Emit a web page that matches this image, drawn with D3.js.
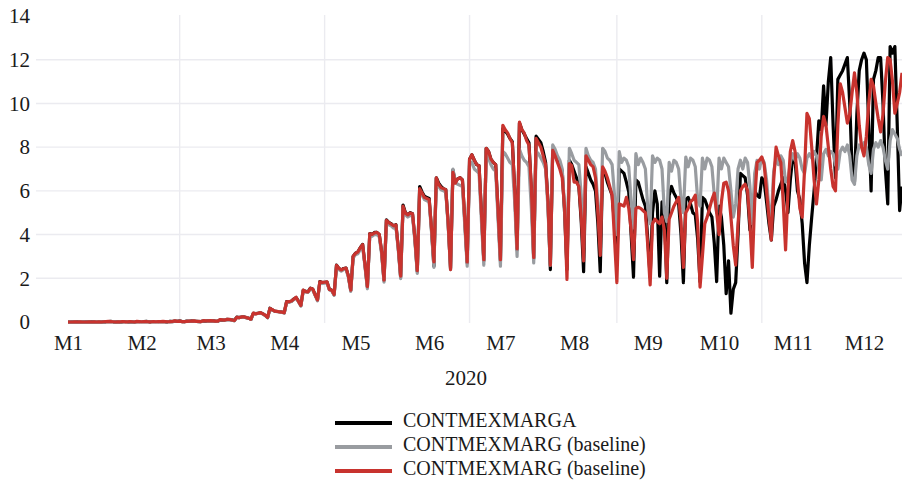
<!DOCTYPE html>
<html>
<head>
<meta charset="utf-8">
<script src="https://cdn.jsdelivr.net/npm/d3@7"></script>
<style>
  body { margin: 0; background: #fff; overflow: hidden; }
  text { font-family: "Liberation Serif", "DejaVu Serif", serif; fill: #1a1a1a; }
</style>
</head>
<body>
<script>
// daily values from 2020-01-01, one row per week (first value = Jan 1)
var contmexmarga = [0.00,
  0.00,0.01,0.00,0.01,0.00,0.00,0.00, 0.01,0.00,0.01,0.01,0.00,0.00,0.00,
  0.01,0.01,0.02,0.03,0.01,0.01,0.00, 0.01,0.01,0.02,0.01,0.01,0.01,0.00,
  0.02,0.01,0.02,0.02,0.03,0.01,0.01, 0.02,0.02,0.01,0.02,0.02,0.01,0.01,
  0.03,0.02,0.04,0.03,0.05,0.02,0.01, 0.04,0.03,0.05,0.04,0.03,0.02,0.02,
  0.05,0.04,0.06,0.05,0.06,0.04,0.03, 0.10,0.09,0.10,0.12,0.11,0.10,0.06,
  0.22,0.20,0.22,0.24,0.20,0.18,0.12, 0.40,0.38,0.40,0.42,0.38,0.30,0.20,
  0.63,0.55,0.50,0.48,0.47,0.45,0.42, 0.93,0.92,0.95,1.05,1.12,0.95,0.75,
  1.45,1.40,1.38,1.55,1.50,1.25,1.00, 1.85,1.80,1.82,1.83,1.50,1.45,1.25,
  2.60,2.45,2.38,2.45,2.47,2.10,1.45, 3.00,3.15,3.20,3.40,3.55,2.60,1.60,
  4.05,4.00,4.10,4.10,4.00,3.20,1.90, 4.67,4.55,4.50,4.40,4.45,3.40,2.05,
  5.35,5.00,4.90,5.00,4.95,3.80,2.30, 6.20,5.95,5.75,5.70,5.65,4.20,2.55,
  6.60,6.35,6.20,6.10,6.05,4.50,2.45, 6.95,6.40,6.55,6.60,6.50,4.60,2.70,
  7.45,7.65,7.40,7.20,7.15,5.00,2.80, 7.95,7.80,7.45,7.30,7.20,5.00,2.80,
  8.85,8.75,8.60,8.40,8.25,6.00,3.30, 9.10,8.80,8.60,8.40,8.20,6.00,2.90,
  8.50,8.35,8.20,7.80,7.30,5.50,2.40, 7.90,7.70,7.40,7.20,6.90,5.00,2.40,
  7.40,7.20,6.90,6.60,6.20,4.60,2.30, 7.10,6.80,6.50,6.30,6.00,4.50,2.30,
  7.00,6.80,6.40,6.10,5.80,4.50,2.70, 7.00,6.90,6.80,6.40,5.95,4.00,2.05,
  6.50,6.40,6.00,5.60,5.30,3.80,2.05, 5.00,6.00,5.40,2.10,5.50,5.20,1.80,
  5.80,6.20,5.90,5.70,5.40,4.00,1.80, 5.60,5.70,5.40,5.00,4.90,3.80,1.85,
  5.70,5.60,5.30,5.00,4.80,3.60,1.85, 5.30,4.80,3.50,1.30,2.80,0.40,1.50,
  1.80,4.00,6.80,6.70,6.60,5.80,4.20, 5.00,6.00,5.80,5.70,6.60,6.40,5.50,
  4.50,3.75,5.30,5.60,6.00,6.30,6.60, 6.00,5.00,6.50,7.55,7.40,6.00,5.60,
  4.50,2.70,1.80,3.50,4.80,6.00,7.50, 9.20,8.80,10.80,9.00,11.00,12.10,9.00,
  6.60,11.10,11.30,11.50,11.80,12.10,10.00, 7.00,6.40,9.50,11.50,12.00,12.30,12.00,
  9.00,6.00,11.10,11.50,12.10,12.10,10.00, 7.00,5.40,12.60,12.30,12.60,9.00,5.10,
  6.20];

var baselineGrey = [0.00,
  0.00,0.01,0.00,0.00,0.01,0.00,0.00, 0.01,0.00,0.00,0.01,0.01,0.00,0.00,
  0.01,0.01,0.02,0.02,0.02,0.01,0.00, 0.02,0.01,0.01,0.02,0.01,0.01,0.01,
  0.02,0.02,0.02,0.01,0.02,0.01,0.01, 0.02,0.02,0.02,0.01,0.02,0.02,0.01,
  0.03,0.03,0.04,0.04,0.04,0.02,0.02, 0.04,0.04,0.04,0.04,0.03,0.03,0.02,
  0.05,0.05,0.05,0.06,0.05,0.04,0.03, 0.10,0.10,0.10,0.11,0.11,0.09,0.06,
  0.21,0.21,0.22,0.23,0.20,0.18,0.12, 0.39,0.38,0.39,0.41,0.37,0.30,0.20,
  0.60,0.54,0.50,0.47,0.46,0.44,0.41, 0.90,0.90,0.94,1.02,1.09,0.93,0.73,
  1.42,1.38,1.36,1.50,1.47,1.22,0.97, 1.80,1.76,1.78,1.79,1.47,1.42,1.22,
  2.52,2.40,2.33,2.40,2.42,2.05,1.40, 2.92,3.08,3.12,3.32,3.45,2.52,1.52,
  3.95,3.92,4.00,4.00,3.90,3.10,1.82, 4.55,4.45,4.40,4.30,4.35,3.30,1.98,
  5.20,4.90,4.80,4.88,4.85,3.70,2.22, 6.00,5.80,5.60,5.55,5.50,4.10,2.50,
  6.50,6.20,6.05,6.00,5.95,4.40,2.40, 7.00,6.40,6.30,6.25,6.20,4.40,2.55,
  7.20,7.30,7.00,6.90,6.80,4.60,2.60, 7.70,7.50,7.20,7.00,6.90,4.70,2.55,
  7.80,7.70,7.50,7.30,7.20,5.50,3.00, 7.90,7.60,7.40,7.30,7.10,5.20,2.70,
  7.80,7.70,7.50,7.30,7.00,5.20,2.60, 8.10,7.90,7.60,7.40,7.00,5.20,2.70,
  7.95,7.70,7.40,7.30,7.20,5.80,3.40, 7.95,7.60,7.40,7.30,7.00,5.40,3.60,
  7.95,7.80,7.50,7.40,7.20,5.80,4.00, 7.80,7.30,7.50,7.40,7.10,5.50,4.30,
  7.70,7.20,7.50,7.30,7.00,5.20,4.50, 7.60,7.30,7.50,7.40,7.00,5.00,4.60,
  7.30,6.90,7.40,7.30,7.00,5.60,5.00, 7.55,7.10,7.50,7.40,7.10,5.60,5.30,
  7.50,7.00,7.50,7.40,7.10,5.80,5.00, 7.50,7.00,7.50,7.30,7.10,6.00,4.80,
  5.40,7.00,7.40,7.00,7.50,7.30,6.20, 4.50,6.80,7.40,7.00,7.50,7.30,6.50,
  5.20,4.80,6.90,7.50,7.20,7.60,7.40, 6.40,6.50,7.30,7.70,7.40,7.70,7.50,
  7.00,6.80,7.50,7.70,7.50,7.80,7.60, 7.00,6.50,7.70,7.90,7.60,7.80,7.70,
  7.20,7.00,7.80,8.00,7.80,8.10,7.60, 6.50,6.30,7.60,8.10,8.00,8.20,8.00,
  7.20,6.80,7.90,8.20,8.00,8.30,8.00, 7.40,7.00,8.30,8.80,8.60,8.40,7.90,
  7.60];

var baselineRed = [0.00,
  0.00,0.00,0.01,0.00,0.01,0.00,0.00, 0.00,0.01,0.00,0.01,0.00,0.01,0.00,
  0.01,0.02,0.03,0.02,0.01,0.00,0.01, 0.01,0.02,0.01,0.01,0.02,0.01,0.00,
  0.03,0.02,0.01,0.02,0.02,0.01,0.01, 0.02,0.01,0.02,0.02,0.03,0.02,0.01,
  0.02,0.03,0.05,0.03,0.04,0.02,0.02, 0.03,0.04,0.04,0.05,0.03,0.03,0.02,
  0.06,0.05,0.05,0.06,0.05,0.04,0.04, 0.11,0.10,0.09,0.12,0.12,0.09,0.07,
  0.21,0.20,0.23,0.23,0.21,0.17,0.13, 0.41,0.37,0.40,0.43,0.37,0.31,0.21,
  0.62,0.56,0.50,0.49,0.46,0.45,0.43, 0.92,0.93,0.96,1.04,1.13,0.94,0.76,
  1.46,1.39,1.38,1.54,1.51,1.24,1.01, 1.84,1.81,1.82,1.84,1.49,1.45,1.26,
  2.59,2.46,2.38,2.44,2.47,2.11,1.46, 3.01,3.14,3.21,3.40,3.54,2.62,1.62,
  4.04,4.01,4.08,4.10,4.01,3.22,1.92, 4.65,4.55,4.48,4.40,4.44,3.42,2.10,
  5.30,4.98,4.90,4.98,4.95,3.85,2.35, 6.10,5.90,5.70,5.65,5.60,4.30,2.75,
  6.60,6.30,6.15,6.10,6.05,4.55,2.40, 6.85,6.35,6.55,6.60,6.50,4.70,2.75,
  7.45,7.65,7.40,7.20,7.15,5.00,2.85, 7.95,7.80,7.45,7.30,7.20,5.10,2.85,
  9.00,8.80,8.65,8.40,8.20,6.00,3.35, 9.15,8.80,8.65,8.30,8.10,6.20,2.95,
  8.40,8.20,8.00,7.60,7.20,5.50,2.60, 7.85,7.60,7.30,7.00,6.60,5.20,1.95,
  7.25,7.15,6.40,6.40,6.20,4.80,2.80, 7.60,7.40,7.20,7.10,6.60,5.00,3.05,
  7.10,6.90,6.60,6.20,5.80,3.80,1.80, 5.40,5.35,5.30,5.70,5.20,4.20,2.85,
  5.20,5.25,5.20,5.10,5.00,3.50,1.70, 4.50,4.70,4.60,4.50,4.80,4.20,2.00,
  4.70,5.00,5.30,5.50,5.70,4.60,2.50, 5.00,5.20,5.50,5.60,5.80,4.50,1.60,
  3.00,4.50,4.80,5.20,5.60,5.90,5.00, 4.00,5.50,6.35,6.40,6.00,4.80,3.50,
  2.60,4.50,6.00,6.20,6.30,6.00,4.50, 2.50,5.50,7.30,7.40,7.55,7.20,6.00,
  4.80,3.75,6.50,8.00,7.60,7.30,5.50, 3.30,6.00,7.80,8.30,7.80,6.50,5.20,
  4.80,7.00,9.55,9.30,8.00,6.50,5.40, 6.50,8.50,9.40,9.00,8.00,7.00,6.20,
  6.00,9.00,10.90,10.50,9.80,9.10,9.50, 10.50,11.40,10.50,9.00,8.00,7.60,8.50,
  10.00,11.10,10.80,10.00,9.30,8.70,9.50, 11.00,12.10,12.00,11.00,9.55,10.00,10.50,
  11.40];

var seriesNames = ["CONTMEXMARGA", "CONTMEXMARG (baseline)", "CONTMEXMARG (baseline)"];
var seriesColors = ["#000000", "#999ca0", "#c8332e"];
var monthLabels = ["M1","M2","M3","M4","M5","M6","M7","M8","M9","M10","M11","M12"];
var yTicks = [0, 2, 4, 6, 8, 10, 12, 14];
var xTitle = "2020";

var svgWidth = 902;
var svgHeight = 481;
var panel = {left: 36, right: 902, top: 15, bottom: 323};

var svg = d3.select("body")
        .append("svg")
        .attr("width", svgWidth)
        .attr("height", svgHeight)
        .style("display", "block");

var dayDate = function (i) { return new Date(2020, 0, 1 + i); };

var xScale = d3.scaleTime()
        .domain([dayDate(0), dayDate(351)])
        .range([68, 902]);

var yScale = d3.scaleLinear()
        .domain([0, 14])
        .range([322, 16]);

// grid
svg.append("g").selectAll("line")
        .data(yTicks.filter(function (d) { return d > 0 && d < 14; }))
        .enter().append("line")
        .attr("x1", panel.left).attr("x2", panel.right)
        .attr("y1", function (d) { return yScale(d); })
        .attr("y2", function (d) { return yScale(d); })
        .attr("stroke", "#ebebf0").attr("stroke-width", 1.4);

var vGrid = [dayDate(47), dayDate(108), dayDate(169), dayDate(231), dayDate(292)];
svg.append("g").selectAll("line")
        .data(vGrid)
        .enter().append("line")
        .attr("x1", function (d) { return xScale(d); })
        .attr("x2", function (d) { return xScale(d); })
        .attr("y1", panel.top).attr("y2", panel.bottom)
        .attr("stroke", "#ebebf0").attr("stroke-width", 1.4);

// axes
var yAxis = d3.axisLeft(yScale).tickValues(yTicks).tickSize(0).tickPadding(6);
var gy = svg.append("g")
        .attr("transform", "translate(" + panel.left + ",0)")
        .call(yAxis);

var monthStarts = monthLabels.map(function (m, i) { return new Date(2020, i, 1); });
var xAxis = d3.axisBottom(xScale)
        .tickValues(monthStarts)
        .tickFormat(function (d, i) { return monthLabels[i]; })
        .tickSize(0).tickPadding(12);
var gx = svg.append("g")
        .attr("transform", "translate(0," + panel.bottom + ")")
        .call(xAxis);

[gx, gy].forEach(function (g) {
    g.select(".domain").remove();
    g.selectAll("text")
        .attr("font-family", "Liberation Serif, serif")
        .attr("font-size", 21)
        .attr("fill", "#1a1a1a");
});

svg.append("text")
        .attr("x", 466).attr("y", 385)
        .attr("text-anchor", "middle")
        .attr("font-size", 21)
        .text(xTitle);

// lines
var lineFunc = d3.line()
        .x(function (d, i) { return xScale(dayDate(i)); })
        .y(function (d) { return yScale(d); });

var allSeries = [contmexmarga, baselineGrey, baselineRed];
allSeries.forEach(function (s, k) {
    svg.append("path")
        .attr("d", lineFunc(s))
        .attr("stroke", seriesColors[k])
        .attr("stroke-width", 3.2)
        .attr("stroke-linejoin", "round")
        .attr("fill", "none");
});

// legend
var legend = svg.append("g").attr("transform", "translate(335,423)");
seriesNames.forEach(function (name, k) {
    var row = legend.append("g").attr("transform", "translate(0," + (k * 24) + ")");
    row.append("line")
        .attr("x1", 0).attr("x2", 57)
        .attr("stroke", seriesColors[k]).attr("stroke-width", 4);
    row.append("text")
        .attr("x", 68).attr("y", 4)
        .attr("font-size", 20)
        .text(name);
});
</script>
</body>
</html>
